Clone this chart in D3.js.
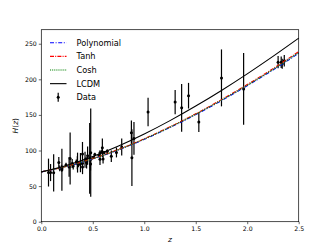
<!DOCTYPE html>
<meta charset="utf-8">
<style>
    body { margin: 0; background: #fff; }
    text { font-family: "DejaVu Sans", sans-serif; fill: #000; }
    .tick text { font-size: 6.2px; }
    .tick line { stroke: #000; stroke-width: 0.6px; }
    .domain { display: none; }
    .frame { fill: none; stroke: #000; stroke-width: 0.7px; }
    .err { stroke: #000; stroke-width: 1.2px; }
    .model { fill: none; stroke-width: 1.1px; }
    .legend text { font-size: 8.2px; }
</style>
<body>
    <svg width="332" height="249"></svg>
</body>
<script src="https://d3js.org/d3.v7.min.js"></script>
<script>

    // observational H(z) points: redshift, value, 1-sigma error
    var zData = [0.07, 0.09, 0.12, 0.17, 0.179, 0.199, 0.2, 0.27, 0.28, 0.352, 0.3802, 0.4, 0.4004, 0.4247,
        0.4497, 0.47, 0.4783, 0.48, 0.593, 0.68, 0.781, 0.875, 0.88, 0.9, 1.037, 1.3, 1.363, 1.43, 1.53,
        1.75, 1.965, 0.24, 0.30, 0.31, 0.34, 0.35, 0.36, 0.38, 0.40, 0.43, 0.44, 0.44, 0.48, 0.51, 0.52,
        0.56, 0.57, 0.57, 0.59, 0.60, 0.61, 0.64, 0.73, 2.30, 2.33, 2.34, 2.36];
    var hData = [69, 69, 68.6, 83, 75, 75, 72.9, 77, 88.8, 83, 83, 95, 77, 87.1,
        92.8, 89, 80.9, 97, 104, 92, 105, 125, 90, 117, 154, 168, 160, 177, 140,
        202, 186.5, 79.7, 81.7, 78.2, 83.8, 82.7, 79.9, 81.5, 82.0, 86.5, 82.6, 84.8, 87.8, 90.4, 94.4,
        93.3, 87.6, 96.8, 98.5, 87.9, 97.3, 98.8, 97.3, 224, 224, 222, 226];
    var sigData = [19.6, 12, 26.2, 8, 4, 5, 29.6, 14, 36.6, 14, 13.5, 17, 10.2, 11.2,
        12.9, 49.6, 9, 62, 13, 8, 12, 17, 40, 23, 20, 17, 33.6, 18, 14,
        40, 50.4, 3, 6.2, 4.7, 3.7, 9.1, 3.4, 1.9, 2.0, 3.7, 7.8, 1.8, 2.0, 1.9, 2.6,
        2.3, 7.8, 3.4, 3.2, 6.1, 2.1, 3.0, 7.0, 8.6, 8, 7, 8];

    // model curves on a 0.25 grid
    var zGrid = [0, 0.25, 0.5, 0.75, 1.0, 1.25, 1.5, 1.75, 2.0, 2.25, 2.5];
    var hPoly = [70, 77.8, 88.2, 100.9, 115.7, 132.3, 150.4, 170.0, 191.0, 213.0, 236.5];
    var hTanh = [70, 78.0, 88.6, 101.5, 116.5, 133.3, 151.6, 171.5, 192.6, 215.0, 239.0];
    var hCosh = [70, 77.9, 88.4, 101.2, 116.1, 132.8, 151.0, 170.7, 191.7, 213.8, 237.5];
    var hLcdm = [70, 79.4, 91.6, 106.3, 123.2, 142.0, 162.5, 184.4, 207.7, 232.2, 257.8];

    var xTicks = [0, 0.5, 1.0, 1.5, 2.0, 2.5];
    var yTicks = [0, 50, 100, 150, 200, 250];

    var svg = d3.select("svg"),
        margin = {top: 29.7, right: 33.3, bottom: 27.3, left: 41.3},
        width = +svg.attr("width") - margin.left - margin.right,
        height = +svg.attr("height") - margin.top - margin.bottom,
        g = svg.append("g").attr("transform", "translate(" + margin.left + "," + margin.top + ")");

    var x = d3.scaleLinear().domain([0, 2.5]).range([0, width]);
    var y = d3.scaleLinear().domain([0, 269.7]).range([height, 0]);

    // axes
    g.append("g")
        .attr("transform", "translate(0," + height + ")")
        .call(d3.axisBottom(x).tickValues(xTicks).tickFormat(d3.format(".1f")).tickSize(2.5).tickPadding(2));
    g.append("g")
        .call(d3.axisLeft(y).tickValues(yTicks).tickSize(2.5).tickPadding(2));

    // error bars
    var pts = zData.map(function (z, i) { return {z: z, h: hData[i], s: sigData[i]}; });
    g.selectAll(".err")
        .data(pts)
        .enter().append("line")
        .attr("class", "err")
        .attr("x1", function (d) { return x(d.z); })
        .attr("x2", function (d) { return x(d.z); })
        .attr("y1", function (d) { return y(d.h - d.s); })
        .attr("y2", function (d) { return y(d.h + d.s); });
    g.selectAll(".pt")
        .data(pts)
        .enter().append("circle")
        .attr("class", "pt")
        .attr("cx", function (d) { return x(d.z); })
        .attr("cy", function (d) { return y(d.h); })
        .attr("r", 1.5)
        .attr("fill", "#000");

    // model lines
    var line = d3.line()
        .x(function (d) { return x(d[0]); })
        .y(function (d) { return y(d[1]); })
        .curve(d3.curveMonotoneX);

    var models = [
        {name: "Polynomial", vals: hPoly, color: "#0000ff", dash: "4,1.6,1,1.6"},
        {name: "Tanh", vals: hTanh, color: "#ff0000", dash: "4,1.2,1,1.2"},
        {name: "Cosh", vals: hCosh, color: "#008000", dash: "1,0.9"},
        {name: "LCDM", vals: hLcdm, color: "#000000", dash: null}
    ];

    models.forEach(function (m) {
        g.append("path")
            .datum(zGrid.map(function (z, i) { return [z, m.vals[i]]; }))
            .attr("class", "model")
            .attr("stroke", m.color)
            .attr("stroke-dasharray", m.dash)
            .attr("d", line);
    });

    // frame
    g.append("rect")
        .attr("class", "frame")
        .attr("width", width)
        .attr("height", height);

    // legend
    var legend = svg.append("g").attr("class", "legend");
    var rows = models.concat([{name: "Data"}]);
    rows.forEach(function (m, i) {
        var ly = 42.7 + i * 13.65;
        var row = legend.append("g").attr("transform", "translate(50," + ly + ")");
        if (m.vals) {
            row.append("line")
                .attr("x1", 0).attr("x2", 16.5)
                .attr("stroke", m.color)
                .attr("stroke-width", 1.1)
                .attr("stroke-dasharray", m.dash);
        } else {
            row.append("line")
                .attr("x1", 8.2).attr("x2", 8.2)
                .attr("y1", -4.5).attr("y2", 4.5)
                .attr("stroke", "#000").attr("stroke-width", 1.2);
            row.append("circle").attr("cx", 8.2).attr("r", 1.5).attr("fill", "#000");
        }
        row.append("text")
            .attr("x", 26.5)
            .attr("dy", "0.35em")
            .text(m.name);
    });

    // axis labels
    svg.append("text")
        .attr("x", margin.left + width / 2)
        .attr("y", 242)
        .attr("text-anchor", "middle")
        .style("font-size", "7.5px")
        .style("font-style", "italic")
        .text("z");
    svg.append("text")
        .attr("transform", "translate(17.5," + (margin.top + height / 2) + ") rotate(-90)")
        .attr("text-anchor", "middle")
        .style("font-size", "7.5px")
        .html("<tspan font-style='italic'>H</tspan>(<tspan font-style='italic'>z</tspan>)");
</script>
